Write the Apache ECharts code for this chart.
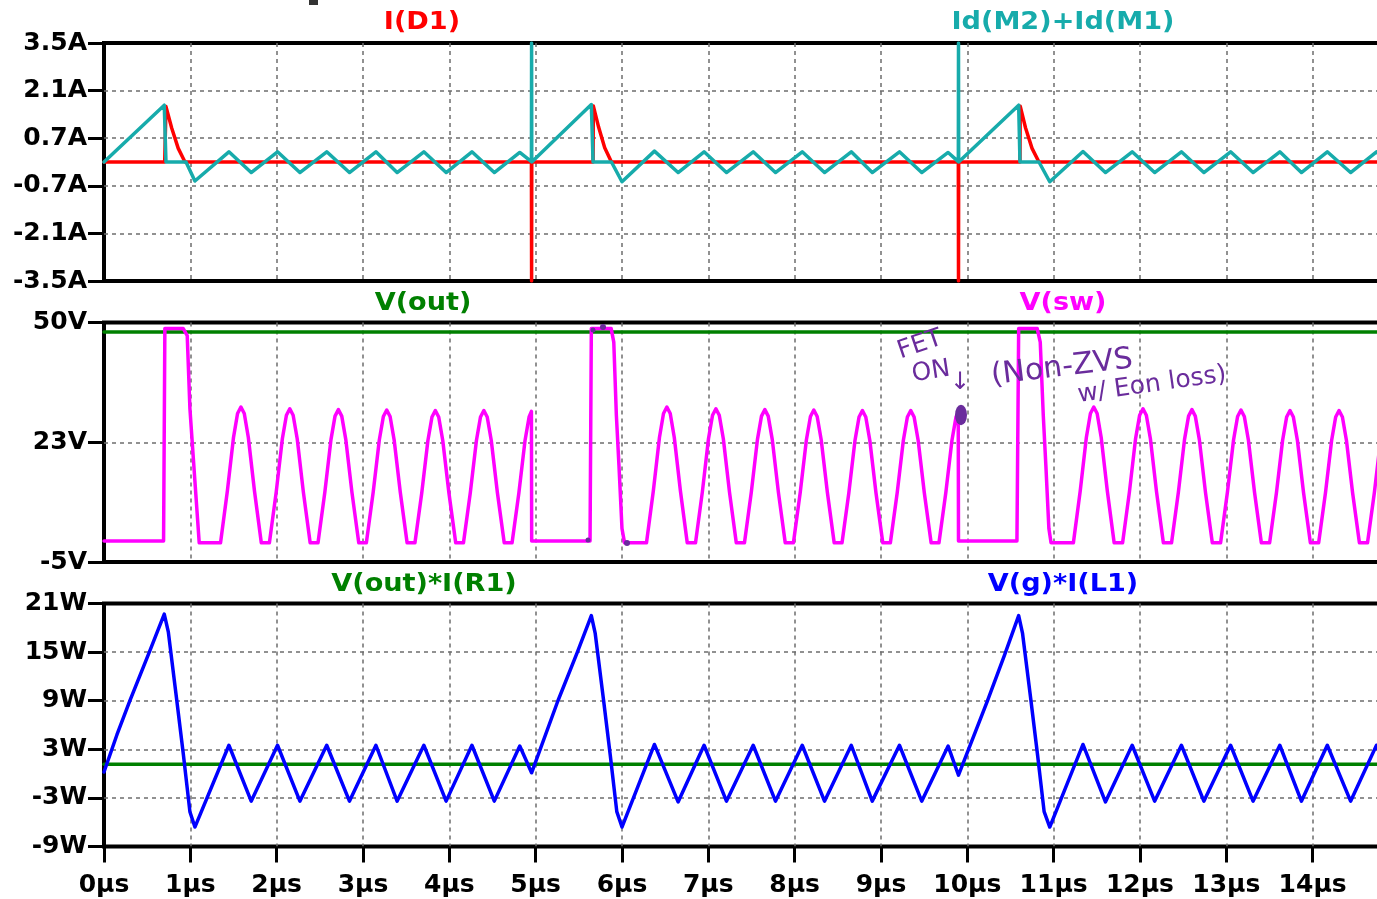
<!DOCTYPE html>
<html>
<head>
<meta charset="utf-8">
<script src="https://cdn.jsdelivr.net/npm/echarts@6/dist/echarts.min.js"></script>
<style>
  html, body { margin: 0; padding: 0; background: #ffffff; }
  #chart { width: 1377px; height: 899px; }
</style>
</head>
<body>
<div id="chart"></div>
<script>
// Time axis in µs; tick values for every pane.
const timeTicks = [0, 1, 2, 3, 4, 5, 6, 7, 8, 9, 10, 11, 12, 13, 14];
const currentTicks = [-3.5, -2.1, -0.7, 0.7, 2.1, 3.5];
const voltTicks = [-5, 22.5, 50];
const voltTickLabels = ['-5V', '23V', '50V'];
const powerTicks = [-9, -3, 3, 9, 15, 21];

// I(D1) [A]
const iD1 = [
  [0, 0], [0.703, 0], [0.718, 1.63], [0.784, 1.0], [0.860, 0.4], [0.938, 0],
  [4.951, 0], [4.953, -3.5], [4.955, 0],
  [5.665, 0], [5.668, 1.65], [5.730, 1.02], [5.800, 0.42], [5.878, 0],
  [9.896, 0], [9.898, -3.5], [9.900, 0],
  [10.610, 0], [10.613, 1.64], [10.675, 1.0], [10.750, 0.4], [10.830, 0],
  [15.0, 0]
];

// Id(M2)+Id(M1) [A]
const idM = [
  [0, 0], [0.698, 1.67], [0.718, 0], [0.950, 0], [1.053, -0.56],
  [1.447, 0.30], [1.705, -0.31], [2.010, 0.30], [2.269, -0.31], [2.580, 0.30], [2.843, -0.31],
  [3.150, 0.30], [3.395, -0.31], [3.705, 0.30], [3.963, -0.31], [4.262, 0.30], [4.521, -0.31],
  [4.816, 0.28], [4.951, 0.01], [4.953, 3.5], [4.955, 0],
  [5.645, 1.69], [5.665, 0], [5.878, 0], [6.000, -0.58],
  [6.376, 0.32], [6.650, -0.31], [6.951, 0.30], [7.210, -0.31], [7.520, 0.30], [7.778, -0.31],
  [8.088, 0.30], [8.346, -0.31], [8.656, 0.30], [8.899, -0.31], [9.214, 0.30], [9.472, -0.31],
  [9.778, 0.28], [9.896, 0.01], [9.898, 3.5], [9.900, 0],
  [10.595, 1.67], [10.610, 0], [10.830, 0], [10.955, -0.58],
  [11.340, 0.31], [11.600, -0.31], [11.910, 0.30], [12.170, -0.31], [12.480, 0.30], [12.740, -0.31],
  [13.050, 0.30], [13.310, -0.31], [13.620, 0.30], [13.870, -0.31], [14.170, 0.30], [14.440, -0.31],
  [14.740, 0.30], [15.0, -0.31]
];

// V(out) [V]
const vOut = [[0, 47.8], [15.0, 47.8]];

// V(sw) [V]
const vSw = [
  [0, -0.2], [0.690, -0.2], [0.705, 48.6], [0.918, 48.6], [0.964, 47.0], [0.995, 30.3], [1.053, 13.6], [1.103, -0.6],
  [1.350, -0.6], [1.429, 11.3], [1.500, 23.6], [1.547, 29.1], [1.586, 30.6], [1.625, 29.1], [1.672, 23.6], [1.743, 11.3], [1.822, -0.6],
  [1.916, -0.6], [1.995, 11.1], [2.066, 23.3], [2.113, 28.7], [2.152, 30.2], [2.191, 28.7], [2.238, 23.3], [2.309, 11.1], [2.388, -0.6],
  [2.479, -0.6], [2.558, 11.0], [2.629, 23.1], [2.676, 28.5], [2.715, 30.0], [2.754, 28.5], [2.801, 23.1], [2.872, 11.0], [2.951, -0.6],
  [3.039, -0.6], [3.118, 11.0], [3.189, 23.0], [3.236, 28.4], [3.275, 29.9], [3.314, 28.4], [3.361, 23.0], [3.432, 11.0], [3.511, -0.6],
  [3.602, -0.6], [3.681, 10.9], [3.752, 22.9], [3.799, 28.3], [3.838, 29.8], [3.877, 28.3], [3.924, 22.9], [3.995, 10.9], [4.074, -0.6],
  [4.164, -0.6], [4.243, 10.9], [4.314, 22.9], [4.361, 28.3], [4.400, 29.8], [4.439, 28.3], [4.486, 22.9], [4.557, 10.9], [4.636, -0.6],
  [4.727, -0.6], [4.806, 10.9], [4.877, 22.9], [4.924, 28.3], [4.951, 29.6], [4.954, -0.2],
  [5.630, -0.2], [5.645, 48.6], [5.875, 48.6], [5.905, 45.5], [5.935, 28.7], [5.965, 17.2], [6.000, 2.7], [6.030, -0.6],
  [6.284, -0.6], [6.363, 11.3], [6.434, 23.6], [6.481, 29.1], [6.520, 30.6], [6.559, 29.1], [6.606, 23.6], [6.677, 11.3], [6.756, -0.6],
  [6.852, -0.6], [6.931, 11.1], [7.002, 23.3], [7.049, 28.7], [7.088, 30.2], [7.127, 28.7], [7.174, 23.3], [7.245, 11.1], [7.324, -0.6],
  [7.419, -0.6], [7.498, 11.0], [7.569, 23.1], [7.616, 28.5], [7.655, 30.0], [7.694, 28.5], [7.741, 23.1], [7.812, 11.0], [7.891, -0.6],
  [7.986, -0.6], [8.065, 11.0], [8.136, 23.0], [8.183, 28.4], [8.222, 29.9], [8.261, 28.4], [8.308, 23.0], [8.379, 11.0], [8.458, -0.6],
  [8.549, -0.6], [8.628, 10.9], [8.699, 22.9], [8.746, 28.3], [8.785, 29.8], [8.824, 28.3], [8.871, 22.9], [8.942, 10.9], [9.021, -0.6],
  [9.109, -0.6], [9.188, 10.9], [9.259, 22.9], [9.306, 28.3], [9.345, 29.8], [9.384, 28.3], [9.431, 22.9], [9.502, 10.9], [9.581, -0.6],
  [9.672, -0.6], [9.751, 10.9], [9.822, 22.9], [9.869, 28.3], [9.895, 29.4], [9.898, -0.2],
  [10.575, -0.2], [10.595, 48.6], [10.810, 48.6], [10.845, 45.5], [10.880, 28.7], [10.910, 17.2], [10.945, 2.7], [10.970, -0.6],
  [11.229, -0.6], [11.308, 11.3], [11.379, 23.6], [11.426, 29.1], [11.465, 30.6], [11.504, 29.1], [11.551, 23.6], [11.622, 11.3], [11.701, -0.6],
  [11.799, -0.6], [11.878, 11.1], [11.949, 23.3], [11.996, 28.7], [12.035, 30.2], [12.074, 28.7], [12.121, 23.3], [12.192, 11.1], [12.271, -0.6],
  [12.366, -0.6], [12.445, 11.0], [12.516, 23.1], [12.563, 28.5], [12.602, 30.0], [12.641, 28.5], [12.688, 23.1], [12.759, 11.0], [12.838, -0.6],
  [12.934, -0.6], [13.013, 11.0], [13.084, 23.0], [13.131, 28.4], [13.170, 29.9], [13.209, 28.4], [13.256, 23.0], [13.327, 11.0], [13.406, -0.6],
  [13.502, -0.6], [13.581, 10.9], [13.652, 22.9], [13.699, 28.3], [13.738, 29.8], [13.777, 28.3], [13.824, 22.9], [13.895, 10.9], [13.974, -0.6],
  [14.070, -0.6], [14.149, 10.9], [14.220, 22.9], [14.267, 28.3], [14.306, 29.8], [14.345, 28.3], [14.392, 22.9], [14.463, 10.9], [14.542, -0.6],
  [14.636, -0.6], [14.715, 10.9], [14.786, 22.9], [14.833, 28.3], [14.872, 29.8], [14.911, 28.3]
];

// V(out)*I(R1) [W]
const pOut = [[0, 1.14], [15.0, 1.14]];

// V(g)*I(L1) [W]
const pIn = [
  [0, 0.2], [0.150, 4.8], [0.300, 9.0], [0.525, 15.0], [0.698, 19.7],
  [0.745, 17.5], [0.840, 9.3], [0.920, 2.3], [0.995, -4.7], [1.053, -6.6],
  [1.447, 3.5], [1.705, -3.4], [2.010, 3.5], [2.269, -3.4], [2.580, 3.5], [2.843, -3.4],
  [3.150, 3.5], [3.395, -3.4], [3.705, 3.5], [3.963, -3.4], [4.262, 3.5], [4.521, -3.4],
  [4.816, 3.4], [4.953, 0.1],
  [5.255, 8.9], [5.480, 14.9], [5.645, 19.5],
  [5.690, 17.3], [5.785, 9.2], [5.865, 2.2], [5.940, -4.7], [6.000, -6.6],
  [6.376, 3.6], [6.650, -3.5], [6.951, 3.5], [7.210, -3.4], [7.520, 3.5], [7.778, -3.4],
  [8.088, 3.5], [8.346, -3.4], [8.656, 3.5], [8.899, -3.4], [9.214, 3.5], [9.472, -3.4],
  [9.778, 3.4], [9.898, -0.2],
  [10.230, 8.9], [10.430, 14.6], [10.595, 19.5],
  [10.640, 17.3], [10.735, 9.2], [10.815, 2.2], [10.890, -4.7], [10.955, -6.6],
  [11.340, 3.6], [11.600, -3.5], [11.910, 3.5], [12.170, -3.4], [12.480, 3.5], [12.740, -3.4],
  [13.050, 3.5], [13.310, -3.4], [13.620, 3.5], [13.870, -3.4], [14.170, 3.5], [14.440, -3.4],
  [14.740, 3.5], [15.0, -3.4]
];

const RED = '#ff0000';
const TEAL = '#17abab';
const GREEN = '#008000';
const MAGENTA = '#ff00ff';
const BLUE = '#0000ff';
const INK = '#6a2c9c';
const FONT = '"DejaVu Sans", "Liberation Sans", sans-serif';

const T_MAX = 14.85;
const PLOT_LEFT = 104;
const PLOT_WIDTH = 1282;

const panes = [
  { top: 43, height: 238, min: -3.5, max: 3.5, ticks: currentTicks, fmt: v => v.toFixed(1) + 'A' },
  { top: 322.5, height: 239.5, min: -5, max: 50, ticks: voltTicks, fmt: v => voltTickLabels[voltTicks.indexOf(v)] },
  { top: 603.5, height: 243, min: -9, max: 21, ticks: powerTicks, fmt: v => v + 'W' }
];

const dashed = { show: true, lineStyle: { color: '#6e6e6e', width: 1.5, type: [4, 4] }, showMinLine: false, showMaxLine: false };

const grids = panes.map(p => ({
  left: PLOT_LEFT, top: p.top, width: PLOT_WIDTH, height: p.height,
  show: true, borderColor: '#000', borderWidth: 4, backgroundColor: 'rgba(0,0,0,0)',
  containLabel: false, outerBoundsMode: 'none'
}));

const xAxes = panes.map((p, i) => {
  const bottom = i === panes.length - 1;
  return {
    type: 'value', gridIndex: i, min: 0, max: T_MAX, interval: 1, position: 'bottom',
    axisLine: { show: false, onZero: false },
    axisTick: { show: bottom, inside: false, length: 16, lineStyle: { color: '#000', width: 3 } },
    axisLabel: {
      show: bottom, showMaxLabel: false, margin: 26,
      formatter: v => (timeTicks.indexOf(v) >= 0 ? v + 'µs' : ''),
      color: '#000', fontFamily: FONT, fontWeight: 'bold', fontSize: 25
    },
    splitLine: dashed
  };
});

const yAxes = panes.map((p, i) => ({
  type: 'value', gridIndex: i, min: p.min, max: p.max,
  axisLine: { show: false, onZero: false },
  axisTick: { show: true, inside: false, length: 16, customValues: p.ticks, lineStyle: { color: '#000', width: 3 } },
  axisLabel: {
    show: true, customValues: p.ticks, margin: 17, formatter: p.fmt,
    color: '#000', fontFamily: FONT, fontWeight: 'bold', fontSize: 25
  },
  splitLine: dashed
}));

function trace(name, data, color, pane) {
  return {
    name, type: 'line', data, xAxisIndex: pane, yAxisIndex: pane,
    showSymbol: false, symbol: 'none', clip: true,
    lineStyle: { color, width: 3.5, join: 'round', cap: 'round' },
    itemStyle: { color }, emphasis: { disabled: true }, silent: true
  };
}

function title(text, x, y, color) {
  return {
    type: 'text', x, y, scaleX: 1.13, z: 10,
    style: { text, fill: color, font: 'bold 24px ' + FONT, align: 'center', verticalAlign: 'middle',
             textAlign: 'center', textVerticalAlign: 'middle' }
  };
}

function note(text, x, y, size, rotation) {
  return {
    type: 'text', x, y, rotation, z: 11,
    style: { text, fill: INK, font: 'normal ' + size + 'px ' + FONT, align: 'center', verticalAlign: 'middle',
             textAlign: 'center', textVerticalAlign: 'middle' }
  };
}

function dot(x, y, r, sy) {
  return { type: 'circle', x, y, scaleY: sy || 1, z: 11, shape: { cx: 0, cy: 0, r }, style: { fill: INK } };
}

const chart = echarts.init(document.getElementById('chart'), null, { renderer: 'canvas' });
chart.setOption({
  animation: false,
  backgroundColor: '#ffffff',
  grid: grids,
  xAxis: xAxes,
  yAxis: yAxes,
  series: [
    trace('I(D1)', iD1, RED, 0),
    trace('Id(M2)+Id(M1)', idM, TEAL, 0),
    trace('V(out)', vOut, GREEN, 1),
    trace('V(sw)', vSw, MAGENTA, 1),
    trace('V(out)*I(R1)', pOut, GREEN, 2),
    trace('V(g)*I(L1)', pIn, BLUE, 2)
  ],
  graphic: [
    title('I(D1)', 422, 23, RED),
    title('Id(M2)+Id(M1)', 1063, 23, TEAL),
    title('V(out)', 423, 304, GREEN),
    title('V(sw)', 1063, 304, MAGENTA),
    title('V(out)*I(R1)', 424, 585, GREEN),
    title('V(g)*I(L1)', 1063, 585, BLUE),
    { type: 'rect', x: 309, y: 0, z: 10, shape: { width: 9, height: 5 }, style: { fill: '#333' } },
    note('FET', 920, 345, 25, 0.33),
    note('ON', 931, 372, 25, 0.15),
    note('↓', 960, 383, 24, 0),
    dot(961, 415, 6, 1.7),
    note('(Non-ZVS', 1062, 368, 30, 0.12),
    note('w/ Eon loss)', 1152, 385, 25, 0.14),
    dot(593, 330, 2.5), dot(603, 327, 3), dot(627, 543, 3), dot(588, 540, 2.5)
  ]
});
</script>
</body>
</html>
